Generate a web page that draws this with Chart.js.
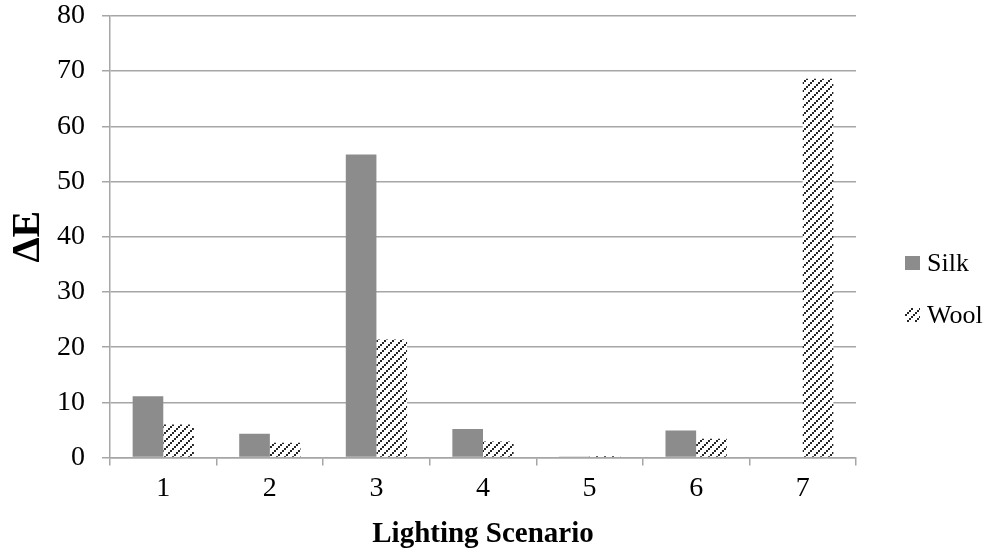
<!DOCTYPE html>
<html>
<head>
<meta charset="utf-8">
<script src="https://cdn.jsdelivr.net/npm/chart.js@4.4.1/dist/chart.umd.min.js"></script>
<style>
  html, body { margin: 0; padding: 0; background: #fff; }
  #wrap { position: relative; width: 989px; height: 554px; overflow: hidden; }
  #deltaChart { position: absolute; left: 0; top: -18px; }
  .key { position: absolute; left: 905px; height: 30px; display: flex; align-items: center;
         font-family: 'Liberation Serif', 'DejaVu Serif', serif; font-size: 26px; color: #000; }
  .key span.sw { display: inline-block; width: 15px; height: 14px; margin-right: 7px; }
</style>
</head>
<body>
<div id="wrap">
  <canvas id="deltaChart" width="989" height="570"></canvas>
  <div class="key" style="top: 248px;"><span class="sw" id="swSilk"></span>Silk</div>
  <div class="key" style="top: 300px;"><span class="sw" id="swWool"></span>Wool</div>
</div>
<script>
const scenarios = ['1', '2', '3', '4', '5', '6', '7'];
const silkValues = [11.1, 4.3, 54.9, 5.2, 0.2, 4.9, 0];
const woolValues = [6.0, 2.7, 21.4, 2.9, 0.3, 3.4, 68.6];

const silkColor = '#8c8c8c';

// diagonal dotted hatch for the wool bars
function makeTile() {
  const c = document.createElement('canvas');
  c.width = 8;
  c.height = 8;
  const g = c.getContext('2d');
  g.fillStyle = '#fff';
  g.fillRect(0, 0, 8, 8);
  g.fillStyle = '#262626';
  for (let i = 0; i < 8; i += 2) {
    g.fillRect(i, 6 - i, 2, 2);
  }
  return c;
}

const tile = makeTile();
const serif = "'Liberation Serif', 'DejaVu Serif', serif";
const gridGray = '#a6a6a6';

document.getElementById('swSilk').style.background = silkColor;
document.getElementById('swWool').style.background = 'url(' + tile.toDataURL() + ')';

const ctx = document.getElementById('deltaChart').getContext('2d');
const hatch = ctx.createPattern(tile, 'repeat');

const deltaChart = new Chart(ctx, {
  type: 'bar',
  data: {
    labels: scenarios,
    datasets: [{
      label: 'Silk',
      backgroundColor: silkColor,
      data: silkValues,
    }, {
      label: 'Wool',
      backgroundColor: hatch,
      data: woolValues,
    }]
  },
  options: {
    responsive: false,
    animation: false,
    layout: { padding: { top: -15, right: 133, left: 0, bottom: 0 } },
    datasets: {
      bar: { categoryPercentage: 0.575, barPercentage: 1.0 }
    },
    plugins: {
      tooltip: { enabled: false },
      legend: { display: false }
    },
    scales: {
      x: {
        offset: true,
        grid: {
          offset: true,
          drawOnChartArea: false,
          drawTicks: true,
          tickLength: 8,
          color: gridGray,
          lineWidth: 1.5
        },
        border: { color: gridGray, width: 1.5 },
        ticks: { color: '#000', padding: 6, font: { family: serif, size: 28 } },
        title: {
          display: true,
          text: 'Lighting Scenario',
          color: '#000',
          padding: { top: 6, bottom: 0 },
          font: { family: serif, size: 29, weight: 'bold' }
        }
      },
      y: {
        min: 0,
        max: 80,
        afterFit: (scale) => { scale.width = 110; },
        ticks: { stepSize: 10, color: '#000', padding: 17, font: { family: serif, size: 28 } },
        grid: { color: gridGray, lineWidth: 1.5, tickLength: 8 },
        border: { color: gridGray, width: 1.5 },
        title: {
          display: true,
          text: 'ΔE',
          color: '#000',
          padding: { top: 5, bottom: 0 },
          font: { family: serif, size: 40, weight: 'bold' }
        }
      }
    }
  }
});
</script>
</body>
</html>
